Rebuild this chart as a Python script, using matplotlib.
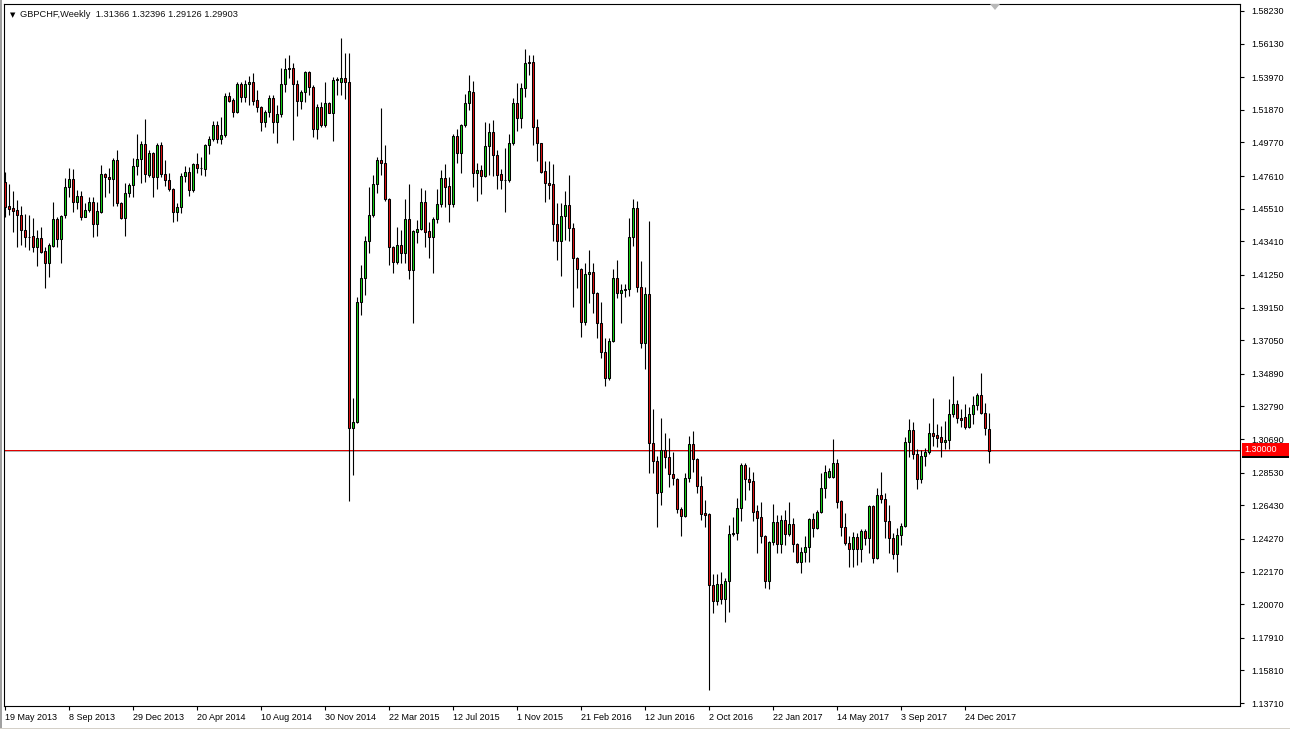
import matplotlib
matplotlib.use('Agg')
import matplotlib.pyplot as plt
from matplotlib.patches import Polygon, Rectangle

plt.rcParams['font.family'] = ['Liberation Sans', 'DejaVu Sans']

# GBPCHF weekly candles, 19 May 2013 .. 4 Feb 2018 (one entry per week)
opens = [
    1.4724, 1.4569, 1.4557, 1.4544, 1.4512, 1.4415, 1.4370, 1.4376, 1.4306, 1.4364,
    1.4281, 1.4203, 1.4313, 1.4486, 1.4357, 1.4512, 1.4692, 1.4743, 1.4595, 1.4634,
    1.4499, 1.4544, 1.4595, 1.4453, 1.4531, 1.4775, 1.4756, 1.4743, 1.4865, 1.4589,
    1.4492, 1.4653, 1.4705, 1.4827, 1.4872, 1.4968, 1.4769, 1.4910, 1.4756, 1.4962,
    1.4775, 1.4737, 1.4679, 1.4531, 1.4563, 1.4762, 1.4788, 1.4672, 1.4840, 1.4814,
    1.4807, 1.4962, 1.5000, 1.5090, 1.5000, 1.5026, 1.5277, 1.5251, 1.5174, 1.5354,
    1.5270, 1.5354, 1.5367, 1.5251, 1.5206, 1.5109, 1.5174, 1.5264, 1.5109, 1.5161,
    1.5354, 1.5450, 1.5457, 1.5354, 1.5245, 1.5302, 1.5431, 1.5335, 1.5064, 1.5206,
    1.5090, 1.5232, 1.5167, 1.5380, 1.5367, 1.5392, 1.5367, 1.3142, 1.3181, 1.3952,
    1.4106, 1.4344, 1.4512, 1.4711, 1.4865, 1.4846, 1.4614, 1.4306, 1.4209, 1.4319,
    1.4268, 1.4486, 1.4158, 1.4402, 1.4422, 1.4595, 1.4409, 1.4370, 1.4486, 1.4582,
    1.4750, 1.4698, 1.4582, 1.5019, 1.4910, 1.5090, 1.5232, 1.5302, 1.4782, 1.4801,
    1.4762, 1.4955, 1.5045, 1.4897, 1.4775, 1.4737, 1.4737, 1.4974, 1.5232, 1.5135,
    1.5328, 1.5495, 1.5495, 1.5077, 1.4974, 1.4794, 1.4718, 1.4711, 1.4453, 1.4344,
    1.4505, 1.4576, 1.4428, 1.4235, 1.4164, 1.3824, 1.4132, 1.4145, 1.4010, 1.3817,
    1.3631, 1.3464, 1.3702, 1.4106, 1.4010, 1.4029, 1.4036, 1.4370, 1.4557, 1.4049,
    1.3689, 1.4004, 1.3045, 1.2930, 1.2730, 1.3001, 1.2956, 1.2846, 1.2814, 1.2621,
    1.2576, 1.2821, 1.3039, 1.2943, 1.2769, 1.2596, 1.2589, 1.2132, 1.2030, 1.2139,
    1.2043, 1.2158, 1.2460, 1.2467, 1.2628, 1.2904, 1.2814, 1.2801, 1.2608, 1.2570,
    1.2448, 1.2158, 1.2409, 1.2537, 1.2396, 1.2550, 1.2460, 1.2525, 1.2396, 1.2280,
    1.2345, 1.2377, 1.2557, 1.2499, 1.2602, 1.2756, 1.2827, 1.2827, 1.2917, 1.2673,
    1.2505, 1.2403, 1.2364, 1.2441, 1.2364, 1.2480, 1.2435, 1.2640, 1.2306, 1.2711,
    1.2686, 1.2544, 1.2435, 1.2332, 1.2454, 1.2512, 1.3052, 1.3129, 1.2975, 1.2814,
    1.2962, 1.2988, 1.3110, 1.3097, 1.3084, 1.3052, 1.3065, 1.3232, 1.3296, 1.3206,
    1.3213, 1.3148, 1.3232, 1.3290, 1.3354, 1.3238, 1.31366,
]
highs = [
    1.4788, 1.4711, 1.4666, 1.4608, 1.4569, 1.4518, 1.4512, 1.4492, 1.4415, 1.4434,
    1.4306, 1.4332, 1.4595, 1.4499, 1.4512, 1.4750, 1.4814, 1.4807, 1.4672, 1.4666,
    1.4589, 1.4627, 1.4627, 1.4595, 1.4833, 1.4782, 1.4814, 1.4878, 1.4930, 1.4595,
    1.4718, 1.4718, 1.4878, 1.5032, 1.4987, 1.5129, 1.4930, 1.4917, 1.4974, 1.4981,
    1.4865, 1.4782, 1.4685, 1.4589, 1.4782, 1.4827, 1.4820, 1.4846, 1.4910, 1.4885,
    1.4968, 1.5019, 1.5116, 1.5116, 1.5142, 1.5296, 1.5302, 1.5264, 1.5367, 1.5367,
    1.5380, 1.5405, 1.5425, 1.5315, 1.5212, 1.5187, 1.5283, 1.5283, 1.5219, 1.5457,
    1.5521, 1.5540, 1.5489, 1.5380, 1.5315, 1.5438, 1.5438, 1.5348, 1.5225, 1.5238,
    1.5367, 1.5235, 1.5399, 1.5399, 1.5650, 1.5553, 1.5553, 1.3335, 1.3984, 1.4190,
    1.4376, 1.4692, 1.4769, 1.4885, 1.5200, 1.4962, 1.4621, 1.4310, 1.4434, 1.4415,
    1.4614, 1.4711, 1.4415, 1.4479, 1.4685, 1.4672, 1.4466, 1.4499, 1.4679, 1.4801,
    1.4840, 1.4756, 1.5032, 1.5064, 1.5097, 1.5290, 1.5412, 1.5373, 1.4846, 1.4833,
    1.5109, 1.5103, 1.5122, 1.4930, 1.4807, 1.4942, 1.5032, 1.5264, 1.5360, 1.5360,
    1.5579, 1.5540, 1.5540, 1.5129, 1.4976, 1.4859, 1.4859, 1.4840, 1.4589, 1.4589,
    1.4666, 1.4769, 1.4460, 1.4241, 1.4171, 1.4203, 1.4287, 1.4203, 1.4017, 1.3952,
    1.3721, 1.3721, 1.4164, 1.4222, 1.4068, 1.4068, 1.4492, 1.4614, 1.4602, 1.4216,
    1.4049, 1.4473, 1.3264, 1.2962, 1.3206, 1.3110, 1.3078, 1.2988, 1.2816, 1.2634,
    1.2853, 1.3090, 1.3123, 1.2949, 1.2833, 1.2679, 1.2591, 1.2203, 1.2203, 1.2216,
    1.2178, 1.2518, 1.2570, 1.2692, 1.2917, 1.2917, 1.2891, 1.2859, 1.2647, 1.2666,
    1.2454, 1.2412, 1.2653, 1.2583, 1.2583, 1.2615, 1.2666, 1.2563, 1.2403, 1.2377,
    1.2448, 1.2563, 1.2596, 1.2615, 1.2853, 1.2904, 1.2885, 1.3071, 1.2943, 1.2679,
    1.2596, 1.2448, 1.2473, 1.2467, 1.2492, 1.2492, 1.2647, 1.2647, 1.2756, 1.2859,
    1.2724, 1.2647, 1.2467, 1.2499, 1.2531, 1.3084, 1.3200, 1.3181, 1.3007, 1.3001,
    1.3014, 1.3174, 1.3335, 1.3168, 1.3155, 1.3187, 1.3328, 1.3477, 1.3322, 1.3264,
    1.3296, 1.3277, 1.3348, 1.3367, 1.3496, 1.3303, 1.32396,
]
lows = [
    1.4499, 1.4512, 1.4402, 1.4306, 1.4319, 1.4306, 1.4287, 1.4274, 1.4183, 1.4268,
    1.4042, 1.4113, 1.4306, 1.4306, 1.4203, 1.4492, 1.4627, 1.4531, 1.4550, 1.4479,
    1.4495, 1.4531, 1.4370, 1.4376, 1.4525, 1.4627, 1.4653, 1.4569, 1.4569, 1.4486,
    1.4376, 1.4627, 1.4627, 1.4769, 1.4718, 1.4724, 1.4756, 1.4627, 1.4679, 1.4756,
    1.4698, 1.4666, 1.4466, 1.4473, 1.4525, 1.4724, 1.4634, 1.4659, 1.4782, 1.4769,
    1.4762, 1.4904, 1.4987, 1.4974, 1.4968, 1.5013, 1.5238, 1.5142, 1.5167, 1.5238,
    1.5238, 1.5219, 1.5219, 1.5174, 1.5052, 1.5077, 1.5142, 1.5039, 1.4974, 1.5142,
    1.5302, 1.5392, 1.4994, 1.5148, 1.5193, 1.5238, 1.5283, 1.5013, 1.5000, 1.5077,
    1.5077, 1.5165, 1.4987, 1.5283, 1.5283, 1.5258, 1.2673, 1.2840, 1.3174, 1.3868,
    1.3997, 1.4268, 1.4499, 1.4653, 1.4769, 1.4602, 1.4190, 1.4139, 1.4196, 1.4203,
    1.4203, 1.4100, 1.3817, 1.4332, 1.4415, 1.4306, 1.4235, 1.4139, 1.4460, 1.4563,
    1.4563, 1.4466, 1.4563, 1.4846, 1.4782, 1.5077, 1.5187, 1.4692, 1.4602, 1.4647,
    1.4756, 1.4769, 1.4762, 1.4679, 1.4679, 1.4531, 1.4724, 1.4962, 1.5052, 1.5071,
    1.5270, 1.5412, 1.4962, 1.4859, 1.4782, 1.4595, 1.4614, 1.4344, 1.4222, 1.4119,
    1.4351, 1.4344, 1.3920, 1.4042, 1.3727, 1.3804, 1.3946, 1.3882, 1.3721, 1.3592,
    1.3412, 1.3451, 1.3695, 1.3978, 1.3817, 1.3984, 1.3991, 1.4313, 1.4017, 1.3657,
    1.3521, 1.2853, 1.2853, 1.2505, 1.2647, 1.2885, 1.2763, 1.2776, 1.2596, 1.2448,
    1.2570, 1.2795, 1.2859, 1.2724, 1.2550, 1.2505, 1.1457, 1.1953, 1.2004, 1.2010,
    1.1894, 1.1959, 1.2448, 1.2422, 1.2544, 1.2679, 1.2743, 1.2544, 1.2338, 1.2403,
    1.2113, 1.2107, 1.2390, 1.2338, 1.2338, 1.2390, 1.2448, 1.2345, 1.2274, 1.2210,
    1.2280, 1.2280, 1.2441, 1.2492, 1.2596, 1.2692, 1.2821, 1.2821, 1.2628, 1.2448,
    1.2390, 1.2248, 1.2248, 1.2261, 1.2280, 1.2390, 1.2338, 1.2274, 1.2300, 1.2660,
    1.2435, 1.2338, 1.2300, 1.2216, 1.2390, 1.2505, 1.2956, 1.2943, 1.2750, 1.2788,
    1.2898, 1.2975, 1.3026, 1.3020, 1.2956, 1.3007, 1.3007, 1.3213, 1.3174, 1.3148,
    1.3135, 1.3142, 1.3168, 1.3258, 1.3232, 1.3097, 1.29126,
]
closes = [
    1.4563, 1.4550, 1.4538, 1.4512, 1.4415, 1.4370, 1.4368, 1.4306, 1.4364, 1.4274,
    1.4203, 1.4319, 1.4486, 1.4357, 1.4505, 1.4692, 1.4743, 1.4595, 1.4634, 1.4499,
    1.4544, 1.4595, 1.4453, 1.4538, 1.4775, 1.4756, 1.4743, 1.4865, 1.4589, 1.4492,
    1.4653, 1.4705, 1.4827, 1.4872, 1.4968, 1.4775, 1.4910, 1.4756, 1.4962, 1.4775,
    1.4737, 1.4679, 1.4531, 1.4563, 1.4762, 1.4788, 1.4672, 1.4840, 1.4814, 1.4816,
    1.4962, 1.5000, 1.5090, 1.5000, 1.5026, 1.5277, 1.5245, 1.5174, 1.5354, 1.5270,
    1.5354, 1.5367, 1.5245, 1.5206, 1.5109, 1.5174, 1.5264, 1.5109, 1.5161, 1.5354,
    1.5450, 1.5457, 1.5354, 1.5245, 1.5302, 1.5431, 1.5335, 1.5064, 1.5206, 1.5090,
    1.5232, 1.5167, 1.5380, 1.5386, 1.5392, 1.5367, 1.3142, 1.3181, 1.3952, 1.4106,
    1.4344, 1.4512, 1.4711, 1.4865, 1.4846, 1.4614, 1.4306, 1.4209, 1.4319, 1.4268,
    1.4486, 1.4158, 1.4409, 1.4422, 1.4595, 1.4402, 1.4370, 1.4486, 1.4582, 1.4750,
    1.4692, 1.4582, 1.5019, 1.4910, 1.5090, 1.5232, 1.5309, 1.4782, 1.4801, 1.4762,
    1.4955, 1.5045, 1.4897, 1.4769, 1.4737, 1.4735, 1.4974, 1.5232, 1.5135, 1.5328,
    1.5489, 1.5489, 1.5077, 1.4974, 1.4788, 1.4718, 1.4705, 1.4453, 1.4344, 1.4505,
    1.4576, 1.4428, 1.4235, 1.4164, 1.3824, 1.4132, 1.4145, 1.4010, 1.3817, 1.3631,
    1.3464, 1.3702, 1.4106, 1.4010, 1.4029, 1.4036, 1.4370, 1.4557, 1.4049, 1.3689,
    1.4004, 1.3045, 1.2930, 1.2724, 1.3001, 1.2956, 1.2846, 1.2821, 1.2621, 1.2576,
    1.2821, 1.3039, 1.2943, 1.2769, 1.2589, 1.2583, 1.2132, 1.2030, 1.2139, 1.2043,
    1.2158, 1.2460, 1.2467, 1.2628, 1.2904, 1.2814, 1.2795, 1.2602, 1.2563, 1.2448,
    1.2158, 1.2409, 1.2537, 1.2396, 1.2550, 1.2460, 1.2525, 1.2396, 1.2280, 1.2345,
    1.2377, 1.2557, 1.2499, 1.2602, 1.2756, 1.2859, 1.2866, 1.2917, 1.2666, 1.2505,
    1.2403, 1.2364, 1.2441, 1.2364, 1.2480, 1.2435, 1.2640, 1.2306, 1.2711, 1.2686,
    1.2544, 1.2435, 1.2332, 1.2454, 1.2512, 1.3052, 1.3129, 1.2975, 1.2814, 1.2962,
    1.2988, 1.3110, 1.3090, 1.3078, 1.3052, 1.3065, 1.3232, 1.3296, 1.3206, 1.3193,
    1.3148, 1.3232, 1.3290, 1.3354, 1.3238, 1.3142, 1.29903,
]

date_labels = ['19 May 2013', '8 Sep 2013', '29 Dec 2013', '20 Apr 2014',
               '10 Aug 2014', '30 Nov 2014', '22 Mar 2015', '12 Jul 2015',
               '1 Nov 2015', '21 Feb 2016', '12 Jun 2016', '2 Oct 2016',
               '22 Jan 2017', '14 May 2017', '3 Sep 2017', '24 Dec 2017']
weeks_per_label = 16

price_ticks = [1.58230, 1.56130, 1.53970, 1.51870, 1.49770, 1.47610, 1.45510,
               1.43410, 1.41250, 1.39150, 1.37050, 1.34890, 1.32790, 1.30690,
               1.28530, 1.26430, 1.24270, 1.22170, 1.20070, 1.17910, 1.15810,
               1.13710]
level_line = 1.30000

W, H = 1290, 729
fig = plt.figure(figsize=(W / 100, H / 100), dpi=100)
ax = fig.add_axes([4 / W, 23 / H, 1236 / W, 702 / H])

n = len(closes)
x = list(range(n))
bull = '#14d214'
bear = '#e01010'
colors = [bull if c >= o else bear for o, c in zip(opens, closes)]
bottoms = [min(o, c) for o, c in zip(opens, closes)]
heights = [abs(c - o) for o, c in zip(opens, closes)]

ax.vlines(x, lows, highs, color='black', linewidth=0.8, zorder=2)
ax.bar(x, heights, bottom=bottoms, width=0.5, color=colors,
       edgecolor='black', linewidth=0.75, zorder=3)

# horizontal level and bid line
ax.axhline(level_line, color='#e00000', linewidth=0.72, zorder=1)
ax.axhline(closes[-1], color='#b4b4b4', linewidth=0.72, zorder=1)

ax.set_xlim(-0.25, 308.75)
ax.set_ylim(1.13517, 1.58680)

for s in ax.spines.values():
    s.set_color('black')
    s.set_linewidth(0.8)

ax.yaxis.tick_right()
ax.set_yticks(price_ticks)
ax.set_yticklabels(['%.5f' % p for p in price_ticks])
ax.tick_params(axis='y', direction='out', length=3, width=0.8,
               labelsize=6.5, pad=5, colors='black')

ax.set_xticks([k * weeks_per_label for k in range(len(date_labels))])
ax.set_xticklabels(date_labels, ha='left')
ax.tick_params(axis='x', direction='out', length=3, width=0.8,
               labelsize=6.5, pad=2, colors='black')

# header
ax.text(0.0045, 0.989, '\u25bc', transform=ax.transAxes, fontsize=5,
        va='top', ha='left', family=['DejaVu Sans'])
ax.text(0.013, 0.991, 'GBPCHF,Weekly  %.5f %.5f %.5f %.5f'
        % (opens[-1], highs[-1], lows[-1], closes[-1]),
        transform=ax.transAxes, fontsize=6.7, va='top', ha='left',
        color='#111111')

# price label box on the scale
yl = ax.transData.transform((0, level_line))[1]
fig.patches.append(Rectangle((1242, yl - 8), 47, 14, transform=None,
                             facecolor='black', edgecolor='none'))
fig.patches.append(Rectangle((1242, yl - 6), 47, 13, transform=None,
                             facecolor='#ff0000', edgecolor='none'))
fig.text(1244 / W, (yl + 0.5) / H, '%.5f' % level_line, color='white',
         fontsize=6.5, va='center', ha='left')

# chart shift marker at the top
fig.patches.append(Polygon([(990, H - 4), (1000, H - 4), (995, H - 10)],
                           closed=True, transform=None,
                           facecolor='#b8b8b8', edgecolor='none'))
# window border
fig.patches.append(Rectangle((0, 0), 1.5, H, transform=None,
                             facecolor='#a0a0a0', edgecolor='none'))
fig.patches.append(Rectangle((0, 0), W, 1.5, transform=None,
                             facecolor='#d4d0c8', edgecolor='none'))

fig.savefig('out.png', dpi=100)
